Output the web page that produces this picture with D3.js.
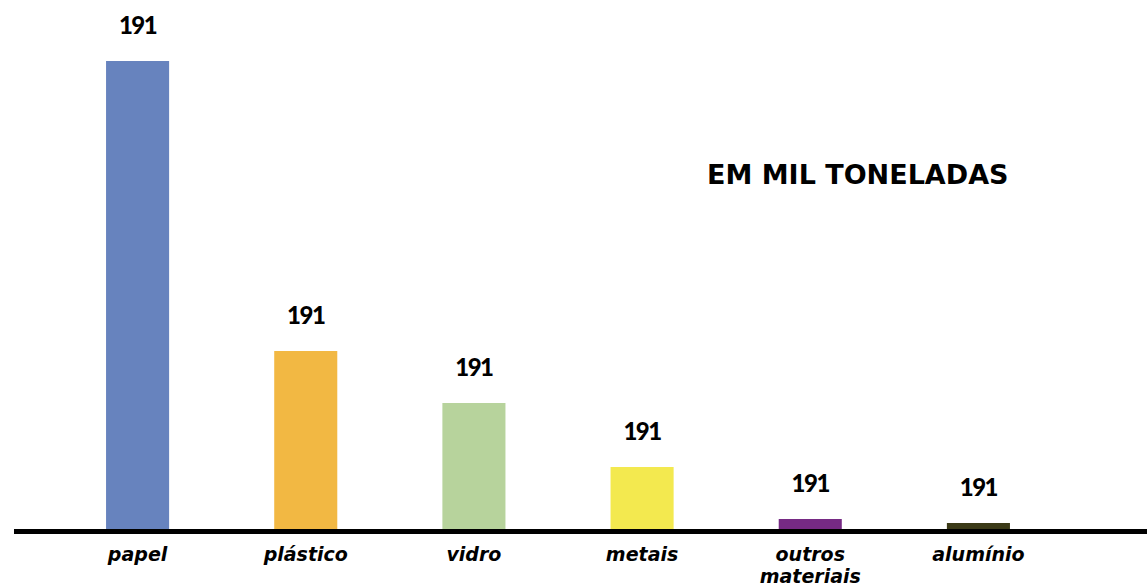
<!DOCTYPE html>
<html>
<head>
<meta charset="utf-8">
<script src="https://cdn.jsdelivr.net/npm/d3@7"></script>
<style>
  html, body { margin: 0; padding: 0; background: #fff; }
  svg { display: block; }
</style>
</head>
<body>
<svg id="canvas" width="1147" height="587"></svg>
<script>
// values (thousand tonnes, estimated)
const categories = ['papel', 'plástico', 'vidro', 'metais', 'outros materiais', 'alumínio']
const values = [468, 178, 126, 62, 10, 6]
const valueLabels = ['191', '191', '191', '191', '191', '191']
const colors = ['#6783be', '#f2b843', '#b7d39c', '#f3e94f', '#762a84', '#3b3a17']

const svg = d3.select('#canvas')
const baseY = 529

const x = d3.scaleBand()
    .domain(categories)
    .range([53.5, 1062.5])
    .paddingInner(0.625)
    .paddingOuter(0.3125)

const y = d3.scaleLinear()
    .domain([0, d3.max(values)])
    .range([baseY, 61])

const data = categories.map((c, i) => ({cat: c, v: values[i], label: valueLabels[i], color: colors[i]}))

svg.append('g').selectAll('rect')
    .data(data)
    .enter()
    .append('rect')
    .attr('x', d => x(d.cat))
    .attr('y', d => y(d.v))
    .attr('width', x.bandwidth())
    .attr('height', d => baseY - y(d.v))
    .attr('fill', d => d.color)

svg.append('g').selectAll('text')
    .data(data)
    .enter()
    .append('text')
    .attr('x', d => x(d.cat) + x.bandwidth() / 2)
    .attr('y', d => y(d.v) - 27)
    .attr('text-anchor', 'middle')
    .style('font-family', 'Lato, Roboto, sans-serif')
    .style('font-size', '24px')
    .style('font-weight', 900)
    .style('letter-spacing', '-1.5px')
    .attr('fill', '#000')
    .text(d => d.label)

// baseline
svg.append('line')
    .attr('x1', 14)
    .attr('x2', 1147)
    .attr('y1', 531.5)
    .attr('y2', 531.5)
    .attr('stroke', '#000')
    .attr('stroke-width', 5)

// category labels (wrap on space for two-word names)
const catLabels = svg.append('g').selectAll('text')
    .data(data)
    .enter()
    .append('text')
    .attr('x', d => x(d.cat) + x.bandwidth() / 2)
    .attr('y', 561)
    .attr('text-anchor', 'middle')
    .style('font-family', '"DejaVu Sans", sans-serif')
    .style('font-size', '19px')
    .style('font-weight', 'bold')
    .style('font-style', 'italic')
    .attr('fill', '#000')

catLabels.each(function(d) {
    const words = d.cat.split(' ')
    const t = d3.select(this)
    words.forEach((w, i) => {
        t.append('tspan')
            .attr('x', x(d.cat) + x.bandwidth() / 2)
            .attr('dy', i === 0 ? 0 : 22)
            .text(w)
    })
})

svg.append('text')
    .attr('x', 707)
    .attr('y', 184)
    .style('font-family', '"DejaVu Sans", sans-serif')
    .style('font-size', '27px')
    .style('font-weight', 'bold')
    .attr('fill', '#000')
    .text('EM MIL TONELADAS')
</script>
</body>
</html>
